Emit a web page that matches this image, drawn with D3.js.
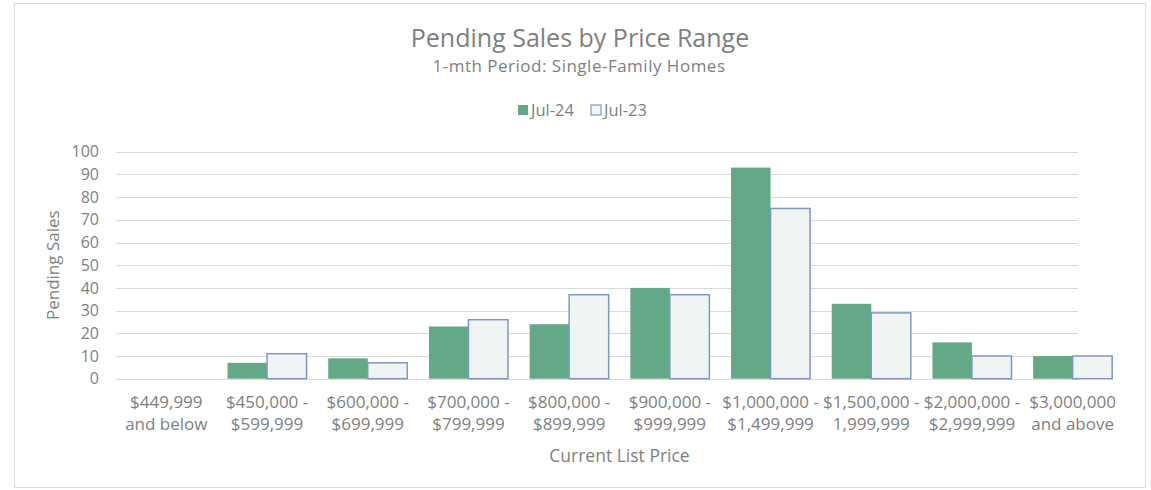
<!DOCTYPE html>
<html>
<head>
<meta charset="utf-8">
<script src="https://cdn.jsdelivr.net/npm/d3@7"></script>
<style>
  body { margin: 0; background: #fff; }
  text { font-family: 'Open Sans', Lato, sans-serif; fill: #7f7f7f; }
</style>
</head>
<body>
<svg id="chart"></svg>
<script>
const categories = [
    ['$449,999', 'and below'],
    ['$450,000 -', '$599,999'],
    ['$600,000 -', '$699,999'],
    ['$700,000 -', '$799,999'],
    ['$800,000 -', '$899,999'],
    ['$900,000 -', '$999,999'],
    ['$1,000,000 -', '$1,499,999'],
    ['$1,500,000 -', '1,999,999'],
    ['$2,000,000 -', '$2,999,999'],
    ['$3,000,000', 'and above'],
]
const seriesNames = ['Jul-24', 'Jul-23']
const jul24 = [0, 7, 9, 23, 24, 40, 93, 33, 16, 10]
const jul23 = [0, 11, 7, 26, 37, 37, 75, 29, 10, 10]
const yTicks = [0, 10, 20, 30, 40, 50, 60, 70, 80, 90, 100]

const width = 1151
const height = 490
const margin = { top: 151.7, left: 116, bottom: 111.3, right: 28 }
const gridRight = 1078
const colors = { 'Jul-24': '#63a987', 'Jul-23': '#f0f4f2' }
const outline = '#7f97c4'

const svg = d3.select('#chart').attr('width', width).attr('height', height)

// chart frame
svg.append('rect')
    .attr('x', 14.5).attr('y', 3.5)
    .attr('width', 1131).attr('height', 484)
    .attr('fill', 'none')
    .attr('stroke', '#dcdcdc')

const keys = categories.map((c) => c.join(' '))
const data = keys.map((k, i) => ({ key: k, 'Jul-24': jul24[i], 'Jul-23': jul23[i] }))

const x = d3.scaleBand()
    .domain(keys)
    .range([margin.left, width - margin.right])
    .paddingInner(0.215)
    .paddingOuter(0.1075)

const xs = d3.scaleBand().domain(seriesNames).range([0, x.bandwidth()])

const y = d3.scaleLinear().domain([0, 100]).range([height - margin.bottom, margin.top])

// gridlines
svg.append('g')
    .selectAll('line')
    .data(yTicks)
    .join('line')
    .attr('x1', margin.left)
    .attr('x2', gridRight)
    .attr('y1', (d) => Math.round(y(d)) + 0.5)
    .attr('y2', (d) => Math.round(y(d)) + 0.5)
    .attr('stroke', '#d9d9d9')

// y tick labels
svg.append('g')
    .selectAll('text')
    .data(yTicks)
    .join('text')
    .attr('x', 99)
    .attr('y', (d) => y(d))
    .attr('dy', '0.35em')
    .attr('text-anchor', 'end')
    .style('font-size', '16px')
    .text((d) => d)

// bars
const groups = svg.append('g')
    .selectAll('g')
    .data(data)
    .join('g')
    .attr('transform', (d) => `translate(${x(d.key)},0)`)

groups.selectAll('rect')
    .data((d) => seriesNames.map((s) => ({ s, v: d[s] })))
    .join('rect')
    .attr('x', (d) => xs(d.s))
    .attr('y', (d) => y(d.v))
    .attr('width', xs.bandwidth())
    .attr('height', (d) => y(0) - y(d.v))
    .attr('fill', (d) => colors[d.s])
    .attr('stroke', (d) => (d.s === 'Jul-23' && d.v > 0 ? outline : 'none'))
    .attr('stroke-width', 1.5)

// x labels
const xl = svg.append('g')
    .selectAll('text')
    .data(categories)
    .join('text')
    .attr('text-anchor', 'middle')
    .style('font-size', '17px')
xl.append('tspan')
    .attr('x', (d, i) => x(keys[i]) + x.bandwidth() / 2)
    .attr('y', 408)
    .text((d) => d[0])
xl.append('tspan')
    .attr('x', (d, i) => x(keys[i]) + x.bandwidth() / 2)
    .attr('y', 430)
    .text((d) => d[1])

// axis titles
svg.append('text')
    .attr('x', (margin.left + width - margin.right) / 2)
    .attr('y', 462)
    .attr('text-anchor', 'middle')
    .style('font-size', '17.5px')
    .text('Current List Price')

svg.append('text')
    .attr('transform', `translate(59,${(y(0) + y(100)) / 2}) rotate(-90)`)
    .attr('text-anchor', 'middle')
    .style('font-size', '17px')
    .text('Pending Sales')

// title
svg.append('text')
    .attr('x', 580).attr('y', 47)
    .attr('text-anchor', 'middle')
    .style('font-size', '25px')
    .text('Pending Sales by Price Range')
svg.append('text')
    .attr('x', 579).attr('y', 72)
    .attr('text-anchor', 'middle')
    .style('font-size', '17px')
    .style('letter-spacing', '0.5px')
    .text('1-mth Period: Single-Family Homes')

// legend
const legend = svg.append('g').attr('transform', 'translate(518,105)')
const li = legend.selectAll('g')
    .data(seriesNames)
    .join('g')
    .attr('transform', (d, i) => `translate(${i * 73},0)`)
li.append('rect')
    .attr('width', 10).attr('height', 10)
    .attr('fill', (d) => colors[d])
    .attr('stroke', (d) => (d === 'Jul-23' ? outline : 'none'))
    .attr('stroke-width', 1.2)
li.append('text')
    .attr('x', 13).attr('y', 5)
    .attr('dy', '0.35em')
    .style('font-size', '16.5px')
    .text((d) => d)
</script>
</body>
</html>
